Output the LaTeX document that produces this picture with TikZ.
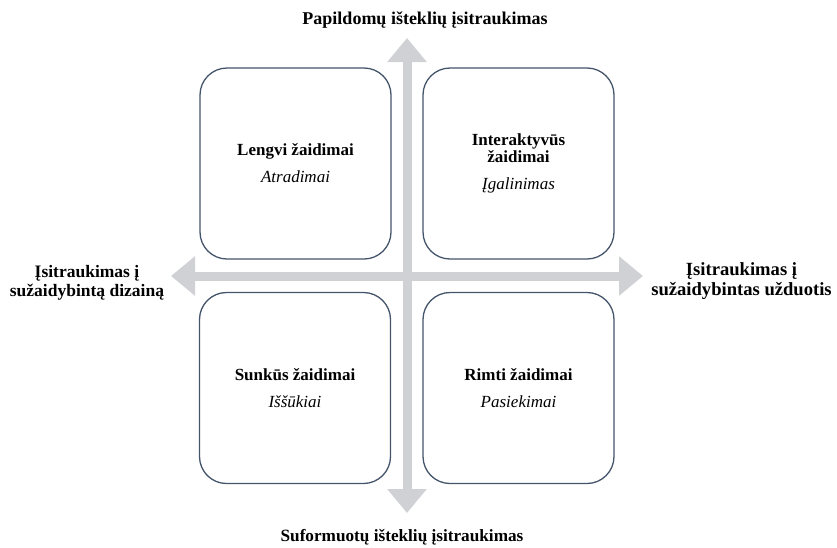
\documentclass[tikz,border=0pt]{standalone}
\usepackage{fontspec}
\setmainfont{Liberation Serif}
\usetikzlibrary{arrows.meta}

\definecolor{boxline}{HTML}{44546A}
\definecolor{axisgray}{HTML}{D0D1D5}

\tikzset{
    quad/.style={draw=boxline, line width=1.3pt, fill=white, rounded corners=27pt,
        minimum width=191pt, minimum height=191pt, align=center,
        font=\fontsize{17}{17}\selectfont},
    axis/.style={color=axisgray, line width=9pt,
        arrows={Triangle[width=38pt,length=24pt]-Triangle[width=38pt,length=24pt]}},
    axislabel/.style={align=center, font=\fontsize{17.5}{19.5}\selectfont\bfseries}
}

\begin{document}
\begin{tikzpicture}[x=1pt,y=-1pt]
        \useasboundingbox (0,0) rectangle (837,547);
        % axes
        \coordinate (ytop) at (407,38);
        \coordinate (ybot) at (407,513);
        \coordinate (xleft) at (171,276);
        \coordinate (xright) at (643,276);
        \draw[axis] (xleft) -- (xright);
        \draw[axis] (ybot) -- (ytop);
        % quadrants
        \node[quad] (tl) at (295.5,163.5) {\textbf{Lengvi žaidimai}\\[10pt]\textit{Atradimai}};
        \node[quad] (tr) at (518.5,163.5) {\textbf{Interaktyvūs}\\\textbf{žaidimai}\\[10pt]\textit{Įgalinimas}};
        \node[quad] (bl) at (295,388) {\textbf{Sunkūs žaidimai}\\[10pt]\textit{Iššūkiai}};
        \node[quad] (br) at (518.5,388) {\textbf{Rimti žaidimai}\\[10pt]\textit{Pasiekimai}};
        % axis labels
        \node[axislabel, font=\fontsize{18}{20}\selectfont\bfseries] (toplabel) at (425,20) {Papildomų išteklių įsitraukimas};
        \node[axislabel, font=\fontsize{17.2}{19}\selectfont\bfseries] (botlabel) at (402,537) {Suformuotų išteklių įsitraukimas};
        \node[axislabel] (leftlabel) at (87,283) {Įsitraukimas į\\sužaidybintą dizainą};
        \node[axislabel, font=\fontsize{18.6}{20}\selectfont\bfseries] (rightlabel) at (741.5,281) {Įsitraukimas į\\sužaidybintas užduotis};
    \end{tikzpicture}
\end{document}
